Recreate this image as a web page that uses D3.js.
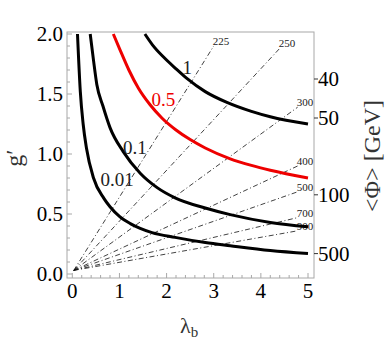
<!DOCTYPE html>
<html>
<head>
<meta charset="utf-8">
<script src="https://cdn.jsdelivr.net/npm/d3@7"></script>
<style>
  body { margin: 0; background: #fff; }
  svg text { font-family: "Liberation Serif", "Times New Roman", Times, serif; }
</style>
</head>
<body>
<div id="chart"></div>
<script>
// contour curves (lambda_b, g')
var lam001 = [0.11, 0.17, 0.23, 0.30, 0.45, 0.67, 0.80, 1.0, 1.23, 1.44, 1.69, 2.18, 2.82, 3.35, 4.2, 5.0];
var g001   = [2.0, 1.52, 1.25, 1.05, 0.80, 0.63, 0.56, 0.48, 0.42, 0.38, 0.345, 0.305, 0.262, 0.235, 0.195, 0.17];
var lam01 = [0.38, 0.45, 0.52, 0.65, 0.80, 1.08, 1.44, 1.8, 2.18, 2.82, 3.35, 4.2, 5.0];
var g01   = [2.0, 1.78, 1.58, 1.40, 1.22, 1.02, 0.84, 0.72, 0.635, 0.55, 0.495, 0.43, 0.394];
var lam05 = [0.87, 1.01, 1.2, 1.40, 1.65, 1.9, 2.2, 2.5, 2.82, 3.35, 3.8, 4.2, 5.0];
var g05   = [2.0, 1.87, 1.70, 1.55, 1.41, 1.30, 1.20, 1.12, 1.05, 0.96, 0.905, 0.865, 0.80];
var lam1 = [1.54, 1.7, 1.93, 2.2, 2.43, 2.82, 3.28, 3.8, 4.2, 5.0];
var g1   = [2.0, 1.91, 1.81, 1.71, 1.63, 1.52, 1.43, 1.355, 1.31, 1.25];

var curveNames = ["0.01", "0.1", "0.5", "1"];
var curveLabelPos = [[0.95, 0.735], [1.33, 1.0], [1.93, 1.40], [2.44, 1.667]];

// dash-dot mass lines, from the origin to their end point
var massLabels = ["225", "250", "300", "400", "500", "700", "900"];
var massEndLam = [3.0, 4.40, 4.78, 4.78, 4.78, 4.78, 4.78];
var massEndG   = [1.90, 1.88, 1.39, 0.90, 0.685, 0.47, 0.36];

// axis ticks
var xTicks = [0, 1, 2, 3, 4, 5];
var yTicks = [0, 0.5, 1.0, 1.5, 2.0];
var phiTicks = [40, 50, 100, 500];
var phiTickG = [1.625, 1.30, 0.66, 0.17];

var W = 388, H = 339;
var svg = d3.select("#chart").append("svg")
  .attr("width", W).attr("height", H)
  .attr("font-family", "'Liberation Serif', 'Times New Roman', serif");

var xScale = d3.scaleLinear().domain([0, 5]).range([72.3, 308]);
var yScale = d3.scaleLinear().domain([0, 2]).range([274, 34]);

var fx0 = 67, fx1 = 314, fy0 = 32, fy1 = 278;
var frameCol = "#a8a8a8";

svg.append("clipPath").attr("id", "clip")
  .append("rect").attr("x", fx0).attr("y", fy0)
  .attr("width", fx1 - fx0).attr("height", fy1 - fy0);

// frame
svg.append("rect")
  .attr("x", fx0).attr("y", fy0)
  .attr("width", fx1 - fx0).attr("height", fy1 - fy0)
  .attr("fill", "none").attr("stroke", frameCol).attr("stroke-width", 1);

// ticks bottom
var xMinor = d3.range(0, 5.001, 0.2);
svg.append("g").selectAll("line").data(xMinor).enter().append("line")
  .attr("x1", function (d) { return xScale(d); })
  .attr("x2", function (d) { return xScale(d); })
  .attr("y1", fy1)
  .attr("y2", function (d) { return Math.abs(d - Math.round(d)) < 1e-6 ? fy1 - 5 : fy1 - 3; })
  .attr("stroke", frameCol);

var yMinor = d3.range(0, 2.001, 0.1);
svg.append("g").selectAll("line").data(yMinor).enter().append("line")
  .attr("y1", function (d) { return yScale(d); })
  .attr("y2", function (d) { return yScale(d); })
  .attr("x1", fx0)
  .attr("x2", function (d) { return Math.abs(d * 2 - Math.round(d * 2)) < 1e-6 ? fx0 + 5 : fx0 + 3; })
  .attr("stroke", frameCol);

// tick labels
svg.append("g").selectAll("text").data(xTicks).enter().append("text")
  .attr("x", function (d) { return xScale(d); })
  .attr("y", 298)
  .attr("text-anchor", "middle")
  .attr("font-size", 21)
  .text(function (d) { return d; });

svg.append("g").selectAll("text").data(yTicks).enter().append("text")
  .attr("x", 63)
  .attr("y", function (d) { return yScale(d) + 7; })
  .attr("text-anchor", "end")
  .attr("font-size", 21)
  .text(function (d) { return d3.format(".1f")(d); });

// right axis
svg.append("g").selectAll("line").data(phiTickG).enter().append("line")
  .attr("x1", fx1).attr("x2", fx1 + 4)
  .attr("y1", function (d) { return yScale(d); })
  .attr("y2", function (d) { return yScale(d); })
  .attr("stroke", "#333");

svg.append("g").selectAll("text").data(phiTicks).enter().append("text")
  .attr("x", 318)
  .attr("y", function (d, i) { return yScale(phiTickG[i]) + 7; })
  .attr("font-size", 21)
  .text(function (d) { return d; });

// axis titles
var xt = svg.append("text")
  .attr("x", 180).attr("y", 333)
  .attr("font-size", 22)
  .attr("fill", "#333")
  .text("λ");
xt.append("tspan").attr("font-size", 15).attr("dy", 4).text("b");

svg.append("text")
  .attr("transform", "translate(22,158) rotate(-90)")
  .attr("text-anchor", "middle")
  .attr("font-size", 24)
  .attr("fill", "#333")
  .text("g′");

svg.append("text")
  .attr("transform", "translate(380,156) rotate(-90)")
  .attr("text-anchor", "middle")
  .attr("font-size", 24)
  .attr("fill", "#333")
  .text("<Φ> [GeV]");

var plot = svg.append("g").attr("clip-path", "url(#clip)");

// mass lines
plot.append("g").selectAll("line").data(massLabels).enter().append("line")
  .attr("x1", xScale(0.03)).attr("y1", yScale(0.03))
  .attr("x2", function (d, i) { return xScale(massEndLam[i]); })
  .attr("y2", function (d, i) { return yScale(massEndG[i]); })
  .attr("stroke", "#111")
  .attr("stroke-width", 0.8)
  .attr("stroke-dasharray", "5,2.5,1,2.5");

plot.append("g").selectAll("text").data(massLabels).enter().append("text")
  .attr("x", function (d, i) { return xScale(massEndLam[i]) - 1; })
  .attr("y", function (d, i) { return yScale(massEndG[i]) - 1; })
  .attr("font-size", 11)
  .attr("fill", "#222")
  .text(function (d) { return d; });

// contour curves
var curves = [
  { lam: lam001, g: g001, col: "#000" },
  { lam: lam01, g: g01, col: "#000" },
  { lam: lam05, g: g05, col: "#ee0000" },
  { lam: lam1, g: g1, col: "#000" }
];

var line = d3.line()
  .x(function (d) { return xScale(d[0]); })
  .y(function (d) { return yScale(d[1]); })
  .curve(d3.curveMonotoneX);

curves.forEach(function (c, k) {
  var pts = c.lam.map(function (l, i) { return [l, c.g[i]]; });
  plot.append("path")
    .datum(pts)
    .attr("d", line)
    .attr("fill", "none")
    .attr("stroke", c.col)
    .attr("stroke-width", 3);
  plot.append("text")
    .attr("x", xScale(curveLabelPos[k][0]))
    .attr("y", yScale(curveLabelPos[k][1]))
    .attr("text-anchor", "middle")
    .attr("font-size", 19)
    .attr("fill", k == 2 ? "#ee0000" : "#222")
    .text(curveNames[k]);
});
</script>
</body>
</html>
